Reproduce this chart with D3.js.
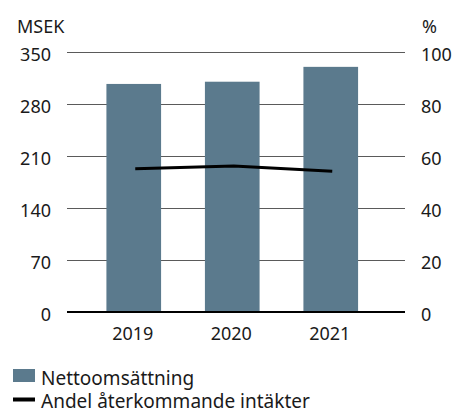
<!DOCTYPE html>
<html>
<head>
<meta charset="utf-8">
<script src="https://cdn.jsdelivr.net/npm/d3@7"></script>
<style>
  body { margin: 0; background: #fff; }
  text { font-family: "Noto Sans", "Open Sans", sans-serif; fill: #1a1a1a; }
</style>
</head>
<body>
<svg id="chart" width="454" height="409"></svg>
<script>
// chart values
const years = ['2019', '2020', '2021']
const revenue = [307, 310, 330]          // MSEK, bars
const recurringShare = [55.1, 56.2, 54.1] // %, line
const leftTicks = [0, 70, 140, 210, 280, 350]
const rightTicks = [0, 20, 40, 60, 80, 100]
const legendLabels = ['Nettoomsättning', 'Andel återkommande intäkter']

const barColor = '#5b7a8d'

const svg = d3.select('#chart')

let x = d3.scaleBand()
    .domain(years)
    .range([84.5, 380])
    .paddingInner(0.445)
    .paddingOuter(0.2225)

let y = d3.scaleLinear().domain([0, 350]).range([312, 52]),
    y2 = d3.scaleLinear().domain([0, 100]).range([312, 52])

// gridlines
svg.append('g')
    .selectAll('line')
    .data(leftTicks.filter(d => d > 0))
    .enter()
    .append('line')
    .attr('x1', 67)
    .attr('x2', 405)
    .attr('y1', d => Math.round(y(d)) + 0.5)
    .attr('y2', d => Math.round(y(d)) + 0.5)
    .attr('stroke', '#5a5a5a')
    .attr('stroke-width', 1)

// bars
svg.append('g')
    .selectAll('rect')
    .data(years)
    .enter()
    .append('rect')
    .attr('x', d => x(d))
    .attr('width', x.bandwidth())
    .attr('y', (d, i) => y(revenue[i]))
    .attr('height', (d, i) => y(0) - y(revenue[i]))
    .attr('fill', barColor)

// baseline
svg.append('line')
    .attr('x1', 67)
    .attr('x2', 405)
    .attr('y1', y(0))
    .attr('y2', y(0))
    .attr('stroke', '#000')
    .attr('stroke-width', 2)

// share line
svg.append('path')
    .datum(years)
    .attr('fill', 'none')
    .attr('stroke', '#000')
    .attr('stroke-width', 3)
    .attr('d', d3.line()
        .x(d => x(d) + x.bandwidth() / 2 + 1.5)
        .y((d, i) => y2(recurringShare[i]))
    )

// left axis labels
svg.append('g')
    .selectAll('text')
    .data(leftTicks)
    .enter()
    .append('text')
    .attr('x', 51)
    .attr('y', d => y(d) + 9)
    .attr('text-anchor', 'end')
    .style('font-size', '18px')
    .text(d => d)

// right axis labels
svg.append('g')
    .selectAll('text')
    .data(rightTicks)
    .enter()
    .append('text')
    .attr('x', 421)
    .attr('y', d => y2(d) + 9)
    .style('font-size', '18px')
    .text(d => d)

// x labels
svg.append('g')
    .selectAll('text')
    .data(years)
    .enter()
    .append('text')
    .attr('x', d => x(d) + x.bandwidth() / 2 - 1)
    .attr('y', 340)
    .attr('text-anchor', 'middle')
    .style('font-size', '18px')
    .text(d => d)

// axis titles
svg.append('text').attr('x', 17).attr('y', 32.5).style('font-size', '18px').text('MSEK')
svg.append('text').attr('x', 422).attr('y', 32.5).style('font-size', '18px').text('%')

// legend
let legend = svg.append('g')
legend.append('rect')
    .attr('x', 13).attr('y', 369)
    .attr('width', 22).attr('height', 13)
    .attr('fill', barColor)
legend.append('rect')
    .attr('x', 13).attr('y', 397.5)
    .attr('width', 22).attr('height', 4)
    .attr('fill', '#000')
legend.selectAll('text.leg')
    .data(legendLabels)
    .enter()
    .append('text')
    .attr('class', 'leg')
    .attr('x', 41)
    .attr('y', (d, i) => 385 + i * 23)
    .style('font-size', '19px')
    .text(d => d)
</script>
</body>
</html>
